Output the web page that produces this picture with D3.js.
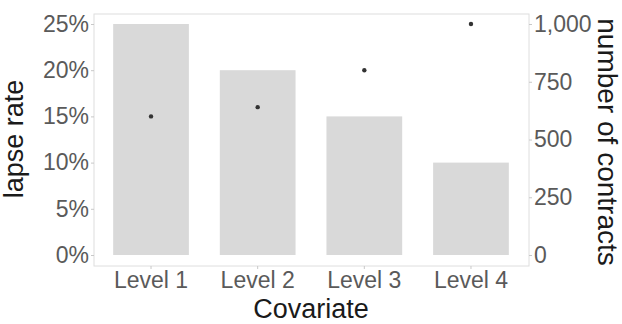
<!DOCTYPE html>
<html>
<head>
<meta charset="utf-8">
<script src="https://cdn.jsdelivr.net/npm/d3@7"></script>
<style>
  body { margin: 0; background: #fff; }
  svg { display: block; font-family: "Liberation Sans", Arial, sans-serif; }
</style>
</head>
<body>
<svg id="chart" width="622" height="324"></svg>
<script>
const categories = ["Level 1", "Level 2", "Level 3", "Level 4"];
const lapseRate = [0.25, 0.20, 0.15, 0.10];
const contracts = [600, 640, 800, 1000];
const leftTicks = [0, 0.05, 0.10, 0.15, 0.20, 0.25];
const rightTicks = [0, 250, 500, 750, 1000];

const svg = d3.select("#chart");
const panel = { left: 94, right: 529, top: 14, bottom: 266 };

const x = d3.scaleBand().domain(categories).range([97.7, 524.3])
  .paddingInner(0.29).paddingOuter(0.145);
const yL = d3.scaleLinear().domain([0, 0.25]).range([255, 24]);
const yR = d3.scaleLinear().domain([0, 1000]).range([255, 24]);

const data = categories.map((c, i) => ({ c, rate: lapseRate[i], n: contracts[i] }));

// bars
svg.append("g").selectAll("rect").data(data).join("rect")
  .attr("x", d => x(d.c)).attr("width", x.bandwidth())
  .attr("y", d => yL(d.rate)).attr("height", d => yL(0) - yL(d.rate))
  .attr("fill", "#d9d9d9");

// points
svg.append("g").selectAll("circle").data(data).join("circle")
  .attr("cx", d => x(d.c) + x.bandwidth() / 2).attr("cy", d => yR(d.n))
  .attr("r", 2.2).attr("fill", "#333");

// panel border
svg.append("rect").attr("x", panel.left).attr("y", panel.top)
  .attr("width", panel.right - panel.left).attr("height", panel.bottom - panel.top)
  .attr("fill", "none").attr("stroke", "#dedede").attr("stroke-width", 1);

const tickColor = "#c8c8c8", labelColor = "#5a5a5a";

// left axis
const gL = svg.append("g").attr("transform", `translate(${panel.left},0)`)
  .call(d3.axisLeft(yL).tickValues(leftTicks).tickFormat(d3.format(".0%")).tickSize(3).tickPadding(2));
// right axis
const gR = svg.append("g").attr("transform", `translate(${panel.right},0)`)
  .call(d3.axisRight(yR).tickValues(rightTicks).tickFormat(d3.format(",")).tickSize(3).tickPadding(2));
// bottom axis
const gB = svg.append("g").attr("transform", `translate(0,${panel.bottom})`)
  .call(d3.axisBottom(x).tickSize(3).tickPadding(5));

[gL, gR, gB].forEach(g => {
  g.select(".domain").remove();
  g.selectAll(".tick line").attr("stroke", tickColor);
  g.selectAll(".tick text").attr("fill", labelColor).attr("font-size", 23)
    .attr("font-family", "Liberation Sans, Arial, sans-serif");
});
gB.selectAll(".tick text").attr("dy", null).attr("y", null)
  .attr("transform", "translate(0,22)");

// titles
svg.append("text").attr("x", 311).attr("y", 318).attr("text-anchor", "middle")
  .attr("font-size", 27).attr("fill", "#1a1a1a").text("Covariate");
svg.append("text").attr("transform", "translate(23,139) rotate(-90)")
  .attr("text-anchor", "middle").attr("font-size", 27).attr("fill", "#1a1a1a").text("lapse rate");
svg.append("text").attr("transform", "translate(598,142) rotate(90)")
  .attr("text-anchor", "middle").attr("font-size", 28).attr("fill", "#1a1a1a").text("number of contracts");
</script>
</body>
</html>
